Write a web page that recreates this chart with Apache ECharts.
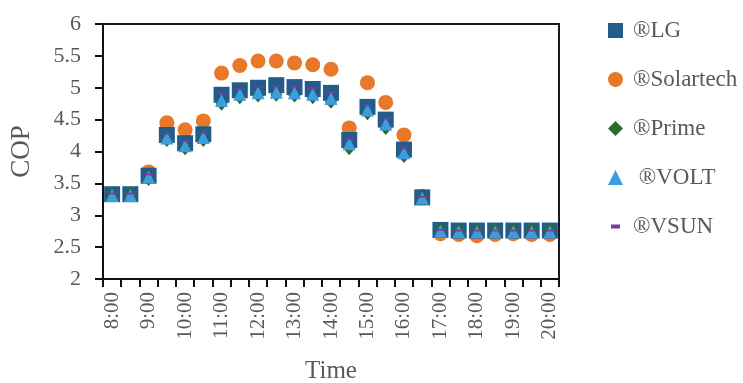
<!DOCTYPE html>
<html>
<head>
<meta charset="utf-8">
<script src="https://cdn.jsdelivr.net/npm/echarts@6/dist/echarts.min.js"></script>
<style>
  html, body { margin: 0; padding: 0; background: #fff; }
  #chart { width: 743px; height: 383px; }
</style>
</head>
<body>
<div id="chart"></div>
<script>
// Half-hourly time slots, 8:00 to 20:00
const times = ['8:00','8:30','9:00','9:30','10:00','10:30','11:00','11:30','12:00','12:30',
  '13:00','13:30','14:00','14:30','15:00','15:30','16:00','16:30','17:00','17:30',
  '18:00','18:30','19:00','19:30','20:00'];

// COP per panel brand
const lg        = [3.33,3.33,3.62,4.26,4.13,4.27,4.89,4.96,5.00,5.04,5.01,4.98,4.92,4.18,4.70,4.50,4.03,3.28,2.77,2.76,2.76,2.76,2.76,2.76,2.76];
const solartech = [3.33,3.33,3.68,4.45,4.34,4.48,5.23,5.35,5.42,5.42,5.39,5.36,5.29,4.37,5.08,4.77,4.26,3.30,2.71,2.70,2.68,2.70,2.71,2.70,2.70];
const prime     = [3.32,3.32,3.57,4.18,4.05,4.18,4.75,4.85,4.88,4.89,4.88,4.85,4.78,4.05,4.60,4.37,3.93,3.27,2.78,2.77,2.77,2.77,2.77,2.77,2.77];
const volt      = [3.31,3.31,3.60,4.21,4.09,4.22,4.80,4.90,4.92,4.93,4.92,4.90,4.83,4.12,4.65,4.43,3.98,3.27,2.75,2.74,2.74,2.74,2.74,2.74,2.74];
const vsun      = [3.34,3.34,3.64,4.28,4.16,4.29,4.91,4.98,5.01,5.03,5.02,4.99,4.93,4.20,4.72,4.52,4.05,3.29,2.77,2.76,2.76,2.76,2.76,2.76,2.76];

const names = ['®LG', '®Solartech', '®Prime', ' ®VOLT', '®VSUN'];

const FONT = 'Liberation Serif';
const TXT = '#595959';

// short dash centred in a 15x15 box so the legend icon stays small
const DASH_ICON = 'path://M0,0M15,15M3,5.5h9v4h-9z';

const chart = echarts.init(document.getElementById('chart'), null, { renderer: 'canvas' });

function scatter(name, data, symbol, size, color, z) {
  return {
    name, type: 'scatter', data, symbol, symbolSize: size, z,
    itemStyle: { color, opacity: 1 },
    emphasis: { disabled: true },
    symbolKeepAspect: true
  };
}

chart.setOption({
  animation: false,
  backgroundColor: '#fff',
  grid: {
    left: 103, right: 184, top: 24, bottom: 104,
    containLabel: false,
    outerBoundsMode: 'none',
    show: true, borderColor: '#1a1a1a', borderWidth: 2, backgroundColor: 'transparent'
  },
  legend: {
    orient: 'vertical',
    left: 603, top: 14,
    itemWidth: 15, itemHeight: 15,
    itemGap: 26,
    textStyle: { fontFamily: FONT, fontSize: 23, color: TXT, lineHeight: 23, padding: [0, 0, 0, 5] },
    data: [
      { name: names[0], icon: 'rect' },
      { name: names[1], icon: 'circle' },
      { name: names[2], icon: 'diamond' },
      { name: names[3], icon: 'triangle' },
      { name: names[4], icon: DASH_ICON }
    ]
  },
  xAxis: {
    type: 'category',
    data: times,
    boundaryGap: true,
    name: 'Time',
    nameLocation: 'middle',
    nameGap: 80,
    nameTextStyle: { fontFamily: FONT, fontSize: 25, color: TXT },
    axisLine: { lineStyle: { color: '#111', width: 2 } },
    axisTick: { show: true, inside: false, length: 8, interval: 0, lineStyle: { color: '#111', width: 2 } },
    axisLabel: { interval: 1, rotate: 90, fontFamily: FONT, fontSize: 21, color: TXT, margin: 13 },
    splitLine: { show: false }
  },
  yAxis: {
    type: 'value',
    min: 2, max: 6, interval: 0.5,
    name: 'COP',
    nameLocation: 'middle',
    nameGap: 68,
    nameTextStyle: { fontFamily: FONT, fontSize: 27, color: TXT },
    axisLine: { show: true, lineStyle: { color: '#111', width: 2 } },
    axisTick: { show: true, inside: false, length: 8, lineStyle: { color: '#111', width: 2 } },
    axisLabel: { fontFamily: FONT, fontSize: 22, color: TXT, margin: 22 },
    splitLine: { show: false }
  },
  series: [
    scatter(names[1], solartech, 'circle', 15, '#E8782A', 2),
    scatter(names[0], lg, 'rect', 16, '#215C8C', 3),
    scatter(names[2], prime, 'diamond', [12, 14], '#2E6A2C', 4),
    scatter(names[3], volt, 'triangle', 13, '#3C9DDC', 5),
    scatter(names[4], vsun, 'path://M0,0h9v4h-9z', [9, 4], '#7E3A96', 6)
  ]
});
</script>
</body>
</html>
